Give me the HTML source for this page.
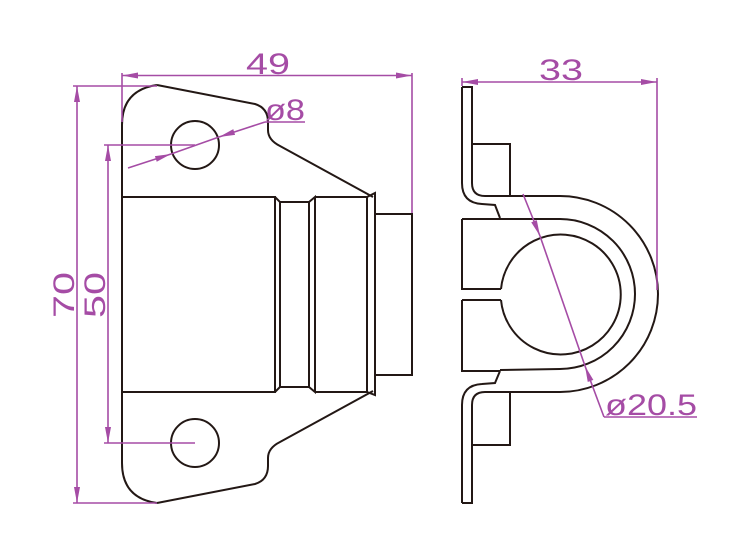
<!DOCTYPE html>
<html><head><meta charset="utf-8"><style>html,body{margin:0;padding:0;background:#fff}svg{display:block}</style></head>
<body>
<svg width="750" height="556" viewBox="0 0 750 556" xmlns="http://www.w3.org/2000/svg">
<defs>
<marker id="a" viewBox="0 0 16 6" refX="16" refY="3" markerWidth="16" markerHeight="6" markerUnits="userSpaceOnUse" orient="auto-start-reverse"><path d="M0,0 L16,3 L0,6 z" fill="#a54ca5"/></marker>
</defs>
<g fill="none" stroke="#231815" stroke-width="2">
<path d="M157,85 L255,104 Q268,108 268,122 L268,130 Q268,140 280,146 L373,197"/>
<path d="M157,503 L255,484 Q268,480 268,466 L268,458 Q268,448 280,442 L373,391"/>
<path d="M157,85 Q122,90 122,125 L122,463 Q122,498 157,503"/>
<circle cx="195" cy="145" r="24"/>
<circle cx="195" cy="443" r="24"/>
<path d="M122,197 L275,197 L275,392 L122,392"/>
<path d="M275,197 L280,202 L280,387 L275,392"/>
<path d="M280,202 L309,202 L309,387 L280,387"/>
<path d="M309,202 L315,197 L315,392 L309,387"/>
<path d="M315,197 L367,197 L367,392 L315,392"/>
<path d="M367,197 L375,193 L375,395 L367,392"/>
<rect x="375" y="214" width="37" height="161"/>
<path d="M462,87 L472,87 L472,183 Q472,196 485,196 L510,196 L510,144 L472,144"/>
<path d="M462,87 L462,183 Q462,203 482,204 L495,205 L500,218"/>
<path d="M462,503 L472,503 L472,405 Q472,392 485,392 L510,392 L510,445 L472,445"/>
<path d="M462,503 L462,405 Q462,385 482,384 L495,383 L500,371"/>
<path d="M510,196 L560,196 A98,98 0 0 1 560,392 L510,392"/>
<path d="M500,219 L560,219 A75,75 0 0 1 560,369 L500,370"/>
<path d="M462,219 L500,219 M462,219 L462,289 L501,289 M462,300 L501,300 M462,300 L462,371 L500,371"/>
<path d="M501,289 A60,60 0 1 1 501,300"/>
</g>
<g stroke="#a54ca5" stroke-width="1.6" fill="none">
<line x1="122" y1="73" x2="122" y2="122"/>
<line x1="412" y1="73" x2="412" y2="213"/>
<line x1="122" y1="75.5" x2="412" y2="75.5" marker-start="url(#a)" marker-end="url(#a)"/>
<line x1="73" y1="86" x2="157" y2="86"/>
<line x1="73" y1="503" x2="157" y2="503"/>
<line x1="77" y1="86" x2="77" y2="503" marker-start="url(#a)" marker-end="url(#a)"/>
<line x1="104" y1="145" x2="195" y2="145"/>
<line x1="104" y1="443" x2="195" y2="443"/>
<line x1="108" y1="145" x2="108" y2="443" marker-start="url(#a)" marker-end="url(#a)"/>
<line x1="128" y1="168" x2="171" y2="154" marker-end="url(#a)"/>
<line x1="265" y1="122" x2="219" y2="137" marker-end="url(#a)"/>
<line x1="171" y1="154" x2="219" y2="137"/>
<line x1="265" y1="122" x2="305" y2="122"/>
<line x1="462" y1="78" x2="462" y2="86"/>
<line x1="657" y1="78" x2="657" y2="290"/>
<line x1="462" y1="82" x2="657" y2="82" marker-start="url(#a)" marker-end="url(#a)"/>
<line x1="523" y1="194" x2="540" y2="236" marker-end="url(#a)"/>
<line x1="604" y1="417" x2="585" y2="366" marker-end="url(#a)"/>
<line x1="540" y1="236" x2="585" y2="366"/>
<line x1="604" y1="417" x2="697" y2="417"/>
</g>
<g fill="#a54ca5" font-family="'Liberation Sans', sans-serif" font-size="30">
<text x="268" y="74" text-anchor="middle" textLength="44" lengthAdjust="spacingAndGlyphs">49</text>
<text x="285" y="120" text-anchor="middle" font-size="30" textLength="40" lengthAdjust="spacingAndGlyphs">ø8</text>
<text x="561" y="80" text-anchor="middle" textLength="44" lengthAdjust="spacingAndGlyphs">33</text>
<text x="651" y="415" text-anchor="middle" font-size="30" textLength="92" lengthAdjust="spacingAndGlyphs">ø20.5</text>
<text transform="translate(74,295) rotate(-90)" text-anchor="middle" textLength="46" lengthAdjust="spacingAndGlyphs">70</text>
<text transform="translate(105,295) rotate(-90)" text-anchor="middle" textLength="46" lengthAdjust="spacingAndGlyphs">50</text>
</g>
</svg>
</body></html>
